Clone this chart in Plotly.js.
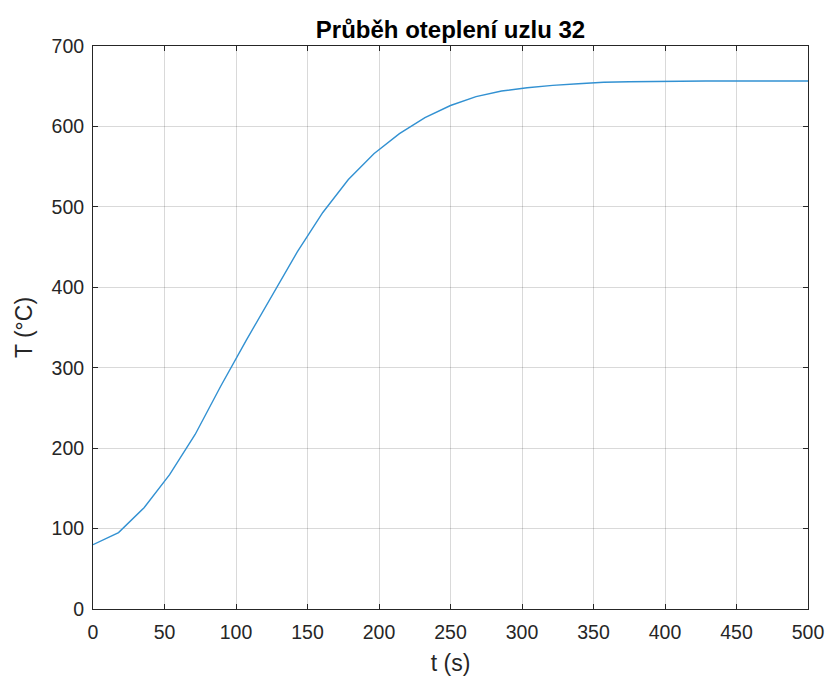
<!DOCTYPE html>
<html>
<head>
<meta charset="utf-8">
<script src="https://cdn.plot.ly/plotly-3.0.1.min.js"></script>
<style>html,body{margin:0;padding:0;background:#fff;}#chart{width:827px;height:677px;}</style>
</head>
<body>
<div id="chart"></div>
<script>
const timeS = [0, 17.86, 35.71, 53.57, 71.43, 89.29, 107.14, 125, 142.86, 160.71, 178.57, 196.43, 214.29, 232.14, 250, 267.86, 285.71, 303.57, 321.43, 339.29, 357.14, 375, 392.86, 410.71, 428.57, 446.43, 464.29, 482.14, 500];
const tempC = [80, 95, 126, 167, 217, 277, 334, 389, 444, 493, 534, 566, 591, 611, 626, 637, 644, 648, 651, 653, 655, 655.5, 656, 656.3, 656.5, 656.5, 656.5, 656.5, 656.5];
const xTicks = [0, 50, 100, 150, 200, 250, 300, 350, 400, 450, 500];
const yTicks = [0, 100, 200, 300, 400, 500, 600, 700];
const titleText = 'Průběh oteplení uzlu 32';
const xLabel = 't (s)';
const yLabel = 'T (°C)';

const fontFam = 'Liberation Sans, Arial, sans-serif';
const axisCommon = {
  showline: true, linecolor: '#262626', linewidth: 1, mirror: 'ticks',
  ticks: 'inside', ticklen: 5, tickcolor: '#262626', tickwidth: 1,
  showgrid: true, gridcolor: 'rgba(0,0,0,0.15)', gridwidth: 1,
  zeroline: false, automargin: false, tickfont: {family: fontFam, size: 19.5, color: '#262626'}
};
Plotly.newPlot('chart', [{
  x: timeS, y: tempC, type: 'scatter', mode: 'lines',
  line: {color: 'rgb(50,145,210)', width: 1.4}, hoverinfo: 'x+y'
}], {
  width: 827, height: 677,
  margin: {l: 93, r: 19, t: 46, b: 68},
  paper_bgcolor: '#fff', plot_bgcolor: '#fff',
  showlegend: false,
  title: {text: '<b>' + titleText + '</b>', font: {family: fontFam, size: 24, color: '#000'}, xref: 'paper', x: 0.5, xanchor: 'center', y: 0.957, yanchor: 'middle'},
  xaxis: Object.assign({}, axisCommon, {range: [0, 500], tickvals: xTicks, ticktext: xTicks.map(String), ticklabelstandoff: 6,
    title: {text: xLabel, font: {family: fontFam, size: 23, color: '#262626'}, standoff: 12}}),
  yaxis: Object.assign({}, axisCommon, {range: [0, 700], tickvals: yTicks, ticktext: yTicks.map(String), ticklabelstandoff: 4,
    title: {text: yLabel, font: {family: fontFam, size: 23, color: '#262626'}, standoff: 12}})
}, {displayModeBar: false, staticPlot: true});
</script>
</body>
</html>
